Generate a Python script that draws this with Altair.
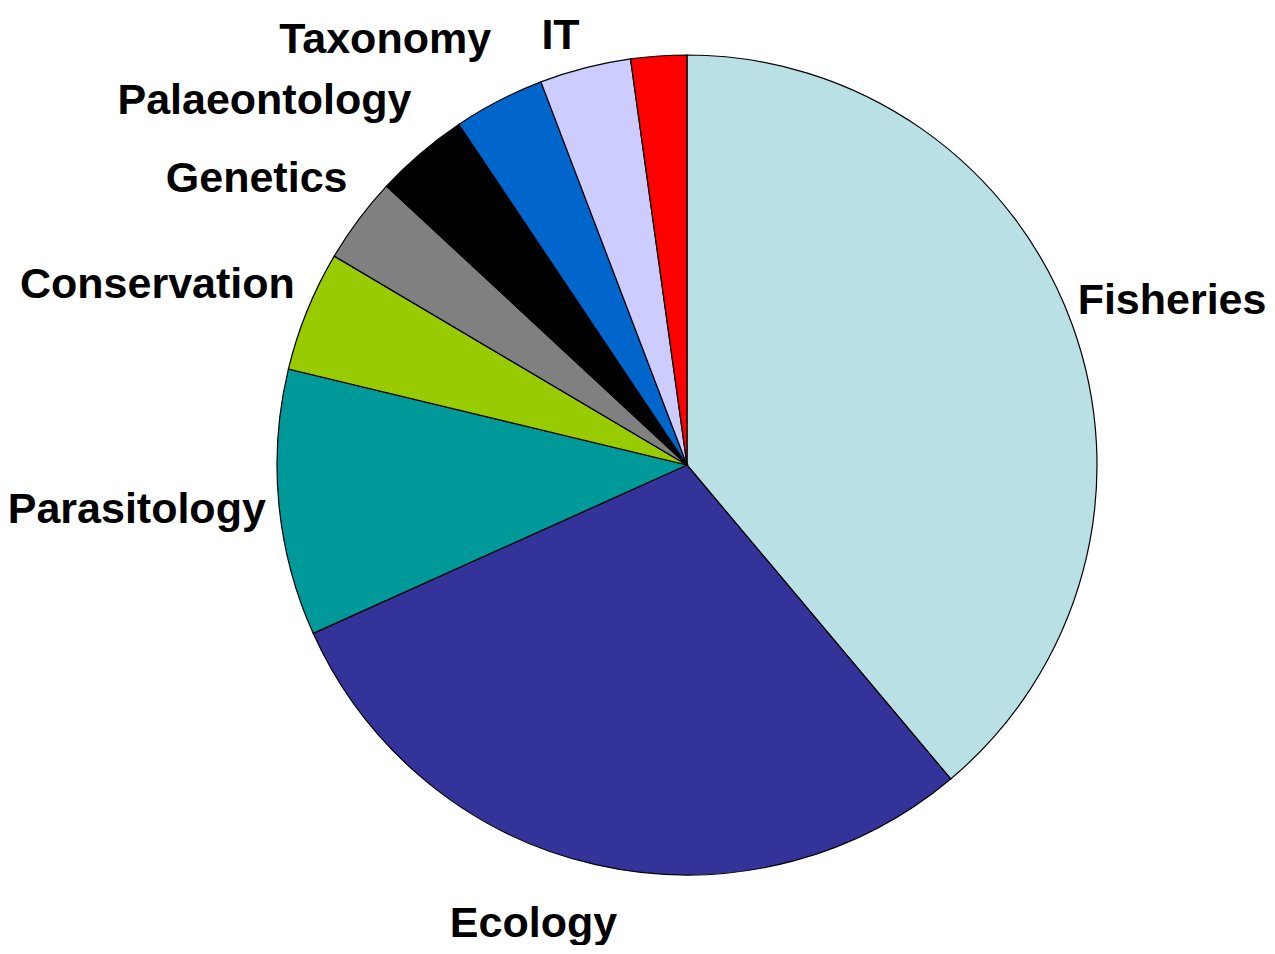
import altair as alt
import pandas as pd

categories = ["Fisheries", "Ecology", "Parasitology", "Conservation", "Genetics",
              "Palaeontology", "Taxonomy", "IT", "Other"]
labels = ["Fisheries", "Ecology", "Parasitology", "Conservation", "Genetics",
          "Palaeontology", "Taxonomy", "IT", ""]
values = [38.9, 29.4, 10.5, 4.75, 3.4, 3.7, 3.6, 3.6, 2.2]
colors = ["#B9E0E4", "#333399", "#009999", "#99CC00", "#808080",
          "#000000", "#0066CC", "#CCCCFF", "#FF0000"]

df = pd.DataFrame({"category": categories, "label": labels, "value": values,
                   "idx": list(range(len(categories)))})

CX, CY = 679, 457
R = 410
A, B, TOPLIM = 420, 478, 429

base = alt.Chart(df)

pie = base.mark_arc(outerRadius=R, stroke="black", strokeWidth=1.2).encode(
    theta=alt.Theta("value:Q", stack=True),
    order=alt.Order("idx:Q"),
    color=alt.Color("category:N", scale=alt.Scale(domain=categories, range=colors), legend=None),
    x=alt.value(CX), y=alt.value(CY),
)

lab = base.transform_window(
    cum="sum(value)", sort=[alt.SortField("idx")], frame=[None, 0]
).transform_joinaggregate(
    total="sum(value)"
).transform_calculate(
    mid="(datum.cum - datum.value/2) / datum.total",
    ang="2*PI*(datum.cum - datum.value/2) / datum.total",
).transform_calculate(
    px=f"{A}*sin(datum.ang)",
    py=f"min({B}*cos(datum.ang), {TOPLIM})",
).transform_calculate(
    lt="atan2(datum.px, datum.py)",
    lr="sqrt(datum.px*datum.px + datum.py*datum.py)",
)

def text_layer(flt, align, dx=0, dy=0):
    return lab.transform_filter(flt).mark_text(
        align=align, baseline="middle", font="Liberation Sans", fontWeight="bold",
        fontSize=43, color="black", dx=dx, dy=dy,
    ).encode(
        theta=alt.Theta("lt:Q", scale=None),
        radius=alt.Radius("lr:Q", scale=None),
        text="label:N",
        x=alt.value(CX), y=alt.value(CY),
    )

right = text_layer("datum.mid < 0.45", "left", dx=-4)
bottom = text_layer("datum.mid >= 0.45 && datum.mid < 0.6", "center", dx=-60, dy=-7)
left = text_layer("datum.mid >= 0.6", "right", dx=-3)

chart = alt.layer(pie, right, bottom, left).properties(
    width=1259, height=937, padding=0,
    autosize=alt.AutoSizeParams(type="none"),
).configure_view(stroke=None)

chart.save("out.html", embed_options={"renderer": "svg", "actions": False})
